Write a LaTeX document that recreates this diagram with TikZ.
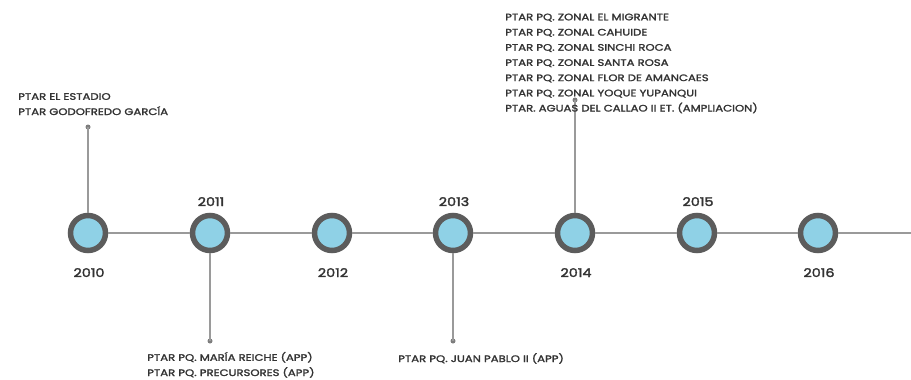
\documentclass[tikz,border=0pt]{standalone}
\usepackage{fontspec}
\setmainfont{Poppins}
\newfontfamily\plantfont{Poppins}[FakeStretch=1.24, FakeBold=2]
\newfontfamily\yearfont{Poppins}[FakeStretch=1.2, FakeBold=2.5]
\definecolor{ringgray}{HTML}{5C5C5C}
\definecolor{linegray}{HTML}{9A9A9A}
\definecolor{dotblue}{HTML}{8FD1E6}
\definecolor{txtgray}{HTML}{333333}
\tikzset{
  x=1pt, y=-1pt,
  axis/.style={draw=linegray, line width=2.6pt},
  stem/.style={draw=linegray, line width=1.6pt},
  milestone/.style={circle, fill=dotblue, draw=ringgray, line width=5.5pt, minimum size=35pt, inner sep=0pt},
  tip/.style={circle, fill=ringgray!80, minimum size=5pt, inner sep=0pt},
  year/.style={font=\yearfont\fontsize{12}{13}\selectfont, text=txtgray, inner sep=0pt, anchor=base},
  plant/.style={font=\plantfont\fontsize{9.4}{15.2}\selectfont, text=txtgray, align=left, inner sep=0pt, anchor=base west}
}
\begin{document}
\begin{tikzpicture}
\useasboundingbox (0,0) rectangle (911,380);
% milestones
\coordinate (axisend) at (911,233);
\node[milestone] (m10) at (88,233) {};
\node[milestone] (m11) at (210,233) {};
\node[milestone] (m12) at (332,233) {};
\node[milestone] (m13) at (453,233) {};
\node[milestone] (m14) at (575,233) {};
\node[milestone] (m15) at (697,233) {};
\node[milestone] (m16) at (818,233) {};
% timeline axis between milestones
\draw[axis] (m10.east) -- (m11.west) (m11.east) -- (m12.west) (m12.east) -- (m13.west)
  (m13.east) -- (m14.west) (m14.east) -- (m15.west) (m15.east) -- (m16.west) (m16.east) -- (axisend);
% stems with end dots
\node[tip] (t10) at (88,127) {};
\node[tip] (t11) at (210,341) {};
\node[tip] (t13) at (453,341) {};
\node[tip] (t14) at (575,100) {};
\draw[stem] (m10.north) -- (t10.center);
\draw[stem] (m11.south) -- (t11.center);
\draw[stem] (m13.south) -- (t13.center);
\draw[stem] (m14.north) -- (t14.center);
% year labels
\node[year] (y10) at (89,277) {2010};
\node[year] (y11) at (211,206) {2011};
\node[year] (y12) at (333,277) {2012};
\node[year] (y13) at (454,206) {2013};
\node[year] (y14) at (576,277) {2014};
\node[year] (y15) at (698,206) {2015};
\node[year] (y16) at (819,277) {2016};
% plant lists (anchored at the baseline of the last line)
\node[plant] (p10) at (18,115) {PTAR EL ESTADIO\\PTAR GODOFREDO GARCÍA};
\node[plant] (p11) at (147,376) {PTAR PQ. MARÍA REICHE (APP)\\PTAR PQ. PRECURSORES (APP)};
\node[plant] (p13) at (398,362) {PTAR PQ. JUAN PABLO II (APP)};
\node[plant] (p14) at (505,111.5) {PTAR PQ. ZONAL EL MIGRANTE\\PTAR PQ. ZONAL CAHUIDE\\PTAR PQ. ZONAL SINCHI ROCA\\PTAR PQ. ZONAL SANTA ROSA\\PTAR PQ. ZONAL FLOR DE AMANCAES\\PTAR PQ. ZONAL YOQUE YUPANQUI\\PTAR. AGUAS DEL CALLAO II ET. (AMPLIACION)};
\end{tikzpicture}
\end{document}
